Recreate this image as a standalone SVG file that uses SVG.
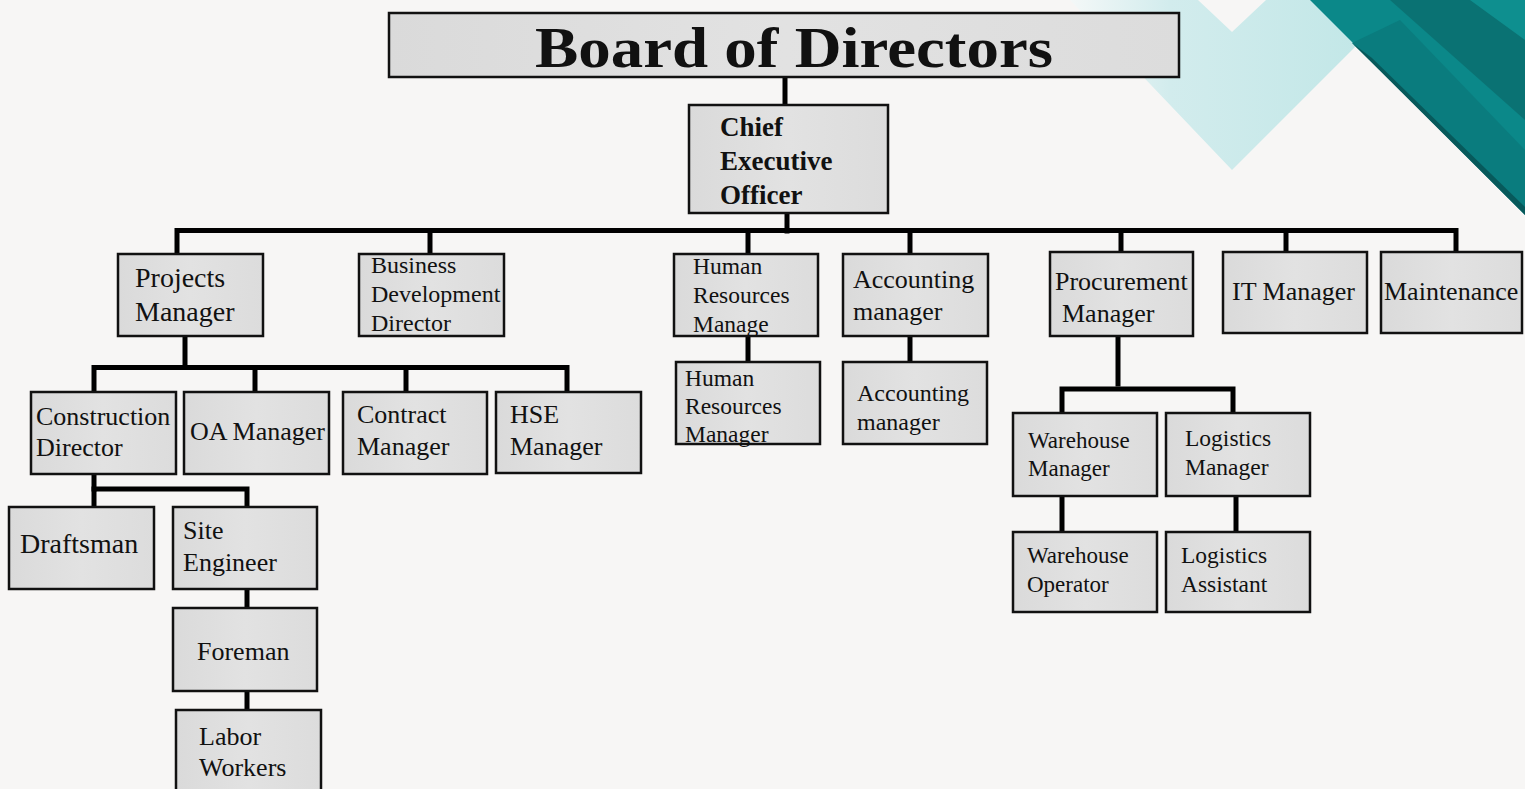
<svg xmlns="http://www.w3.org/2000/svg" width="1525" height="789" viewBox="0 0 1525 789">
<defs>
<linearGradient id="boxg" x1="0" y1="0" x2="1" y2="0">
<stop offset="0" stop-color="#dadada"/>
<stop offset="0.5" stop-color="#e2e2e2"/>
<stop offset="1" stop-color="#dcdcdc"/>
</linearGradient>
<linearGradient id="cyang" x1="0" y1="0" x2="1" y2="0">
<stop offset="0" stop-color="#f4f8f8"/>
<stop offset="0.3" stop-color="#d2eced"/>
<stop offset="1" stop-color="#bfe6e6"/>
</linearGradient>
<style>
.box{fill:url(#boxg);stroke:#111;stroke-width:2.5}
.t{font-family:"Liberation Serif","Times New Roman",serif;fill:#111}
.b{font-weight:bold}
.ln{stroke:#000;stroke-width:5;fill:none;stroke-linecap:square}
</style>
</defs>
<rect width="1525" height="789" fill="#f7f6f5"/>
<g id="decor">
<polygon points="1070,0 1198,0 1232,32 1266,0 1402,0 1232,170" fill="url(#cyang)"/>
<polygon points="1310,0 1525,0 1525,215" fill="#0b8889"/>
<polygon points="1390,0 1525,0 1525,120" fill="#0a7273"/>
<polygon points="1352,43 1400,20 1525,150 1525,210" fill="#0a7c7e"/>
<polygon points="1352,43 1372,58 1525,207 1525,215" fill="#07595b"/>
<polygon points="1470,0 1525,0 1525,40" fill="#0e8f8f"/>
</g>
<g id="connectors">
<line class="ln" x1="785" y1="78" x2="785" y2="103"/>
<line class="ln" x1="787" y1="212" x2="787" y2="231"/>
<polyline class="ln" points="177,252 177,230.5 1456,230.5 1456,252"/>
<line class="ln" x1="430" y1="231" x2="430" y2="252"/>
<line class="ln" x1="748" y1="231" x2="748" y2="252"/>
<line class="ln" x1="910" y1="231" x2="910" y2="252"/>
<line class="ln" x1="1121" y1="231" x2="1121" y2="250"/>
<line class="ln" x1="1286" y1="231" x2="1286" y2="250"/>
<line class="ln" x1="185" y1="337" x2="185" y2="366"/>
<polyline class="ln" points="94,390 94,367.5 567,367.5 567,390"/>
<line class="ln" x1="255" y1="368" x2="255" y2="390"/>
<line class="ln" x1="406" y1="368" x2="406" y2="390"/>
<line class="ln" x1="94" y1="475" x2="94" y2="489"/>
<polyline class="ln" points="94,505 94,489 247,489 247,505"/>
<line class="ln" x1="247" y1="590" x2="247" y2="607"/>
<line class="ln" x1="247" y1="692" x2="247" y2="709"/>
<line class="ln" x1="748" y1="337" x2="748" y2="361"/>
<line class="ln" x1="910" y1="337" x2="910" y2="361"/>
<line class="ln" x1="1118" y1="337" x2="1118" y2="384"/>
<polyline class="ln" points="1062,411 1062,389 1233,389 1233,411"/>
<line class="ln" x1="1062" y1="497" x2="1062" y2="530"/>
<line class="ln" x1="1236" y1="497" x2="1236" y2="530"/>
</g>
<g id="board">
<rect class="box" x="389" y="13" width="790" height="64"/>
<text class="t b" x="535" y="67" font-size="58" textLength="518" lengthAdjust="spacingAndGlyphs">Board of Directors</text>
</g>
<g id="ceo">
<rect class="box" x="689" y="105" width="199" height="108"/>
<text class="t b" font-size="27"><tspan x="720" y="136">Chief</tspan><tspan x="720" y="170">Executive</tspan><tspan x="720" y="204">Officer</tspan></text>
</g>
<g id="projects-manager">
<rect class="box" x="118" y="254" width="145" height="82"/>
<text class="t" font-size="28"><tspan x="135" y="287">Projects</tspan><tspan x="135" y="321">Manager</tspan></text>
</g>
<g id="business-dev">
<rect class="box" x="359" y="254" width="145" height="82"/>
<text class="t" font-size="24"><tspan x="371" y="273">Business</tspan><tspan x="371" y="302">Development</tspan><tspan x="371" y="331">Director</tspan></text>
</g>
<g id="hr-manage">
<rect class="box" x="674" y="254" width="144" height="82"/>
<text class="t" font-size="23.5"><tspan x="693" y="274">Human</tspan><tspan x="693" y="303">Resources</tspan><tspan x="693" y="332">Manage</tspan></text>
</g>
<g id="accounting-manager">
<rect class="box" x="843" y="254" width="145" height="82"/>
<text class="t" font-size="26"><tspan x="853" y="288">Accounting</tspan><tspan x="853" y="320">manager</tspan></text>
</g>
<g id="procurement-manager">
<rect class="box" x="1050" y="252" width="143" height="84"/>
<text class="t" font-size="26"><tspan x="1055" y="290">Procurement</tspan><tspan x="1062" y="322">Manager</tspan></text>
</g>
<g id="it-manager">
<rect class="box" x="1223" y="252" width="144" height="81"/>
<text class="t" x="1232" y="300" font-size="26">IT Manager</text>
</g>
<g id="maintenance">
<rect class="box" x="1381" y="252" width="141" height="81"/>
<text class="t" x="1384" y="300" font-size="26">Maintenance</text>
</g>
<g id="construction-director">
<rect class="box" x="31" y="392" width="145" height="82"/>
<text class="t" font-size="26"><tspan x="36" y="425">Construction</tspan><tspan x="36" y="456">Director</tspan></text>
</g>
<g id="oa-manager">
<rect class="box" x="184" y="392" width="145" height="82"/>
<text class="t" x="190" y="440" font-size="26">OA Manager</text>
</g>
<g id="contract-manager">
<rect class="box" x="343" y="392" width="144" height="82"/>
<text class="t" font-size="26"><tspan x="357" y="423">Contract</tspan><tspan x="357" y="455">Manager</tspan></text>
</g>
<g id="hse-manager">
<rect class="box" x="496" y="392" width="145" height="81"/>
<text class="t" font-size="26"><tspan x="510" y="423">HSE</tspan><tspan x="510" y="455">Manager</tspan></text>
</g>
<g id="draftsman">
<rect class="box" x="9" y="507" width="145" height="82"/>
<text class="t" x="20" y="553" font-size="28">Draftsman</text>
</g>
<g id="site-engineer">
<rect class="box" x="173" y="507" width="144" height="82"/>
<text class="t" font-size="26"><tspan x="183" y="539">Site</tspan><tspan x="183" y="571">Engineer</tspan></text>
</g>
<g id="foreman">
<rect class="box" x="173" y="608" width="144" height="83"/>
<text class="t" x="197" y="660" font-size="26">Foreman</text>
</g>
<g id="labor-workers">
<rect class="box" x="176" y="710" width="145" height="90"/>
<text class="t" font-size="26"><tspan x="199" y="745">Labor</tspan><tspan x="199" y="776">Workers</tspan></text>
</g>
<g id="hr-manager">
<rect class="box" x="676" y="362" width="144" height="82"/>
<text class="t" font-size="23.5"><tspan x="685" y="386">Human</tspan><tspan x="685" y="414">Resources</tspan><tspan x="685" y="442">Manager</tspan></text>
</g>
<g id="accounting-manager-2">
<rect class="box" x="843" y="362" width="144" height="82"/>
<text class="t" font-size="24"><tspan x="857" y="401">Accounting</tspan><tspan x="857" y="430">manager</tspan></text>
</g>
<g id="warehouse-manager">
<rect class="box" x="1013" y="413" width="144" height="83"/>
<text class="t" font-size="23"><tspan x="1028" y="448">Warehouse</tspan><tspan x="1028" y="476">Manager</tspan></text>
</g>
<g id="logistics-manager">
<rect class="box" x="1166" y="413" width="144" height="83"/>
<text class="t" font-size="23.5"><tspan x="1185" y="446">Logistics</tspan><tspan x="1185" y="475">Manager</tspan></text>
</g>
<g id="warehouse-operator">
<rect class="box" x="1013" y="532" width="144" height="80"/>
<text class="t" font-size="23"><tspan x="1027" y="563">Warehouse</tspan><tspan x="1027" y="592">Operator</tspan></text>
</g>
<g id="logistics-assistant">
<rect class="box" x="1166" y="532" width="144" height="80"/>
<text class="t" font-size="23.5"><tspan x="1181" y="563">Logistics</tspan><tspan x="1181" y="592">Assistant</tspan></text>
</g>
</svg>
